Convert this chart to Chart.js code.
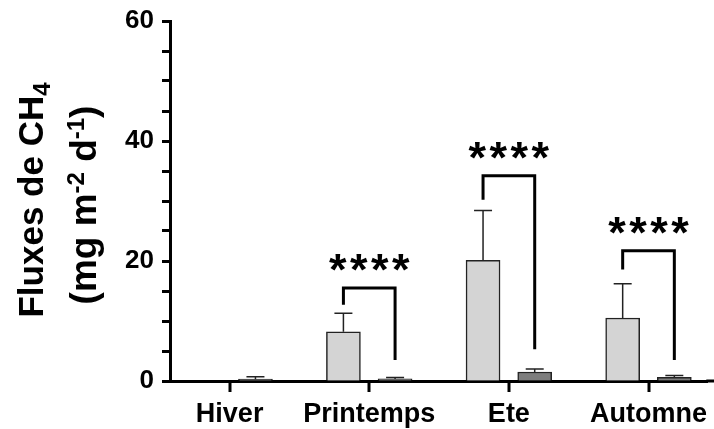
<!DOCTYPE html>
<html lang="fr">
<head>
  <meta charset="UTF-8" />
  <title>Fluxes de CH4</title>
  <script src="https://cdn.jsdelivr.net/npm/chart.js"></script>
  <style>
    body { margin: 0; background: #fff; }
    #wrap { width: 714px; height: 429px; position: relative; }
  </style>
</head>
<body>
  <div id="wrap"><canvas id="chart"></canvas></div>

  <script>
    // values
    const seasons = ['Hiver', 'Printemps', 'Ete', 'Automne'];
    const lightMeans = [0, 8.2, 20.1, 10.5];
    const lightSD = [0, 3.1, 8.3, 5.7];
    const darkMeans = [0.3, 0.35, 1.5, 0.6];
    const darkSD = [0.4, 0.25, 0.5, 0.3];

    // significance brackets (y values), one per season
    const bracketTop = [null, 15.5, 34.2, 21.7];
    const bracketLeftEnd = [null, 12.7, 30.2, 18.6];
    const bracketRightEnd = [null, 3.5, 5.3, 3.5];
    const sigLabels = ['', '****', '****', '****'];

    const yMax = 60;
    const yStep = 5;
    const yLabelEvery = 20;

    const barShift = 0.185;
    const font = '"Liberation Sans", Arial, sans-serif';

    const extras = {
      id: 'extras',
      afterDatasetsDraw(chart) {
        const ctx = chart.ctx;
        const xs = chart.scales.x, ys = chart.scales.y;
        ctx.save();
        ctx.strokeStyle = '#222';
        ctx.lineWidth = 1.5;
        // error bars (upper only)
        const sets = [[lightMeans, lightSD, -barShift], [darkMeans, darkSD, barShift]];
        sets.forEach(([m, sd, off]) => {
          m.forEach((v, i) => {
            if (!sd[i]) return;
            const x = xs.getPixelForValue(i + off);
            const y0 = ys.getPixelForValue(v);
            const y1 = ys.getPixelForValue(v + sd[i]);
            ctx.beginPath();
            ctx.moveTo(x, y0); ctx.lineTo(x, y1);
            ctx.moveTo(x - 9, y1); ctx.lineTo(x + 9, y1);
            ctx.stroke();
          });
        });
        // brackets + stars
        ctx.strokeStyle = '#000';
        ctx.lineWidth = 3;
        ctx.fillStyle = '#000';
        ctx.font = 'bold 45px ' + font;
        ctx.textAlign = 'center';
        ctx.textBaseline = 'alphabetic';
        seasons.forEach((s, i) => {
          if (bracketTop[i] == null) return;
          const xl = xs.getPixelForValue(i - barShift);
          const xr = xs.getPixelForValue(i + barShift);
          const yt = ys.getPixelForValue(bracketTop[i]);
          ctx.beginPath();
          ctx.moveTo(xl, ys.getPixelForValue(bracketLeftEnd[i]));
          ctx.lineTo(xl, yt);
          ctx.lineTo(xr, yt);
          ctx.lineTo(xr, ys.getPixelForValue(bracketRightEnd[i]));
          ctx.stroke();
          const cx = xs.getPixelForValue(i);
          const n = sigLabels[i].length;
          for (let k = 0; k < n; k++) {
            ctx.fillText('*', cx + (k - (n - 1) / 2) * 21, yt - 3);
          }
        });
        ctx.restore();
      },
      afterDraw(chart) {
        const ctx = chart.ctx;
        const xs = chart.scales.x;
        const area = chart.chartArea;
        ctx.save();
        ctx.fillStyle = '#000';
        // x axis runs to the right edge of the figure
        ctx.fillRect(area.right - 1, area.bottom - 1.5, chart.width - area.right + 1, 3);
        // category ticks under the x axis
        seasons.forEach((s, i) => {
          const x = Math.round(xs.getPixelForValue(i));
          ctx.fillRect(x - 1.5, area.bottom, 3, 11);
        });
        ctx.textBaseline = 'alphabetic';
        const drawRich = (parts, bx, cy) => {
          ctx.save();
          ctx.translate(bx, cy);
          ctx.rotate(-Math.PI / 2);
          let w = 0;
          parts.forEach(p => { ctx.font = 'bold ' + p.size + 'px ' + font; p.w = ctx.measureText(p.t).width; w += p.w; });
          let x = -w / 2;
          parts.forEach(p => {
            ctx.font = 'bold ' + p.size + 'px ' + font;
            ctx.textAlign = 'left';
            ctx.fillText(p.t, x, p.dy || 0);
            x += p.w;
          });
          ctx.restore();
        };
        drawRich([{ t: 'Fluxes de CH', size: 35 }, { t: '4', size: 24, dy: 7 }], 43, 200);
        drawRich([
          { t: '(mg m', size: 37 }, { t: '-2', size: 24, dy: -12 },
          { t: ' d', size: 37 }, { t: '-1', size: 24, dy: -12 },
          { t: ')', size: 37 }
        ], 96, 205);
        ctx.restore();
      }
    };

    new Chart(document.getElementById('chart'), {
      type: 'bar',
      data: {
        datasets: [
          {
            data: lightMeans.map((v, i) => ({ x: i - barShift, y: v })),
            backgroundColor: '#d4d4d4',
            borderColor: '#222',
            borderWidth: 1.5,
            barThickness: 34,
            grouped: false
          },
          {
            data: darkMeans.map((v, i) => ({ x: i + barShift, y: v })),
            backgroundColor: '#7d7d7d',
            borderColor: '#222',
            borderWidth: 1.5,
            barThickness: 34,
            grouped: false
          }
        ]
      },
      options: {
        responsive: true,
        maintainAspectRatio: false,
        animation: false,
        layout: { padding: { top: 21, right: 0, bottom: 0, left: 0 } },
        plugins: { legend: { display: false }, tooltip: { enabled: false } },
        scales: {
          x: {
            type: 'linear',
            offset: false,
            min: -0.427,
            max: 3.421,
            afterBuildTicks: s => { s.ticks = seasons.map((_, i) => ({ value: i })); },
            afterFit: s => { s.height = 48; },
            ticks: {
              callback: v => seasons[v],
              color: '#000',
              font: { family: font, size: 27, weight: 'bold' },
              padding: 7,
              maxRotation: 0,
              autoSkip: false
            },
            grid: { offset: false, drawOnChartArea: false, tickLength: 10, tickColor: 'rgba(0,0,0,0)' },
            border: { color: '#000', width: 3 }
          },
          y: {
            min: 0,
            max: yMax,
            afterFit: s => { s.width = 170; },
            ticks: {
              stepSize: yStep,
              callback: v => (v % yLabelEvery === 0 ? v : ''),
              color: '#000',
              font: { family: font, size: 26, weight: 'bold', lineHeight: 1 },
              padding: 8,
              autoSkip: false
            },
            grid: { drawOnChartArea: false, tickLength: 8, tickWidth: 3, tickColor: '#000' },
            border: { color: '#000', width: 3 }
          }
        }
      },
      plugins: [extras]
    });
  </script>
</body>
</html>
